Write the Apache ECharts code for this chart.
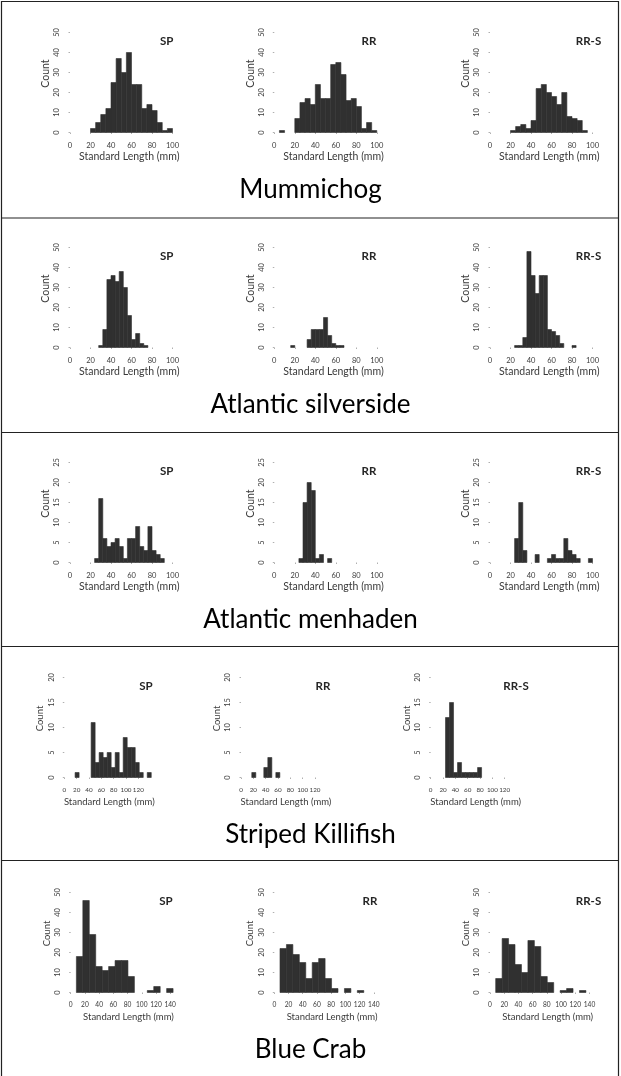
<!DOCTYPE html>
<html>
<head>
<meta charset="utf-8">
<script src="https://cdn.jsdelivr.net/npm/echarts@6/dist/echarts.min.js"></script>
<style>
  html, body { margin: 0; padding: 0; background: #fff; }
  #chart { width: 621px; height: 1076px; }
</style>
</head>
<body>
<div id="chart"></div>
<script>
// Panel titles (one row per species) and sampling sites (one column each)
const speciesNames = ['Mummichog', 'Atlantic silverside', 'Atlantic menhaden', 'Striped Killifish', 'Blue Crab'];
const siteNames = ['SP', 'RR', 'RR-S'];

// Axis ranges per species row
const xMaxBySpecies = [100, 100, 100, 120, 140];
const yMaxBySpecies = [50, 50, 25, 20, 50];
const yStepBySpecies = [10, 10, 5, 5, 10];

// Histogram bins: bin width (mm), first break of each site (mm), counts per bin
const mummichogBinWidth = 5;
const mummichogStarts = [20, 5, 20];
const mummichogSP = [2, 5, 9, 12, 25, 37, 30, 40, 24, 24, 12, 14, 11, 5, 1, 2];
const mummichogRR = [1, 0, 0, 7, 15, 17, 14, 24, 17, 17, 34, 35, 29, 16, 17, 13, 2, 5, 1];
const mummichogRRS = [1, 3, 4, 2, 6, 22, 24, 20, 18, 14, 20, 8, 7, 6, 1];

const silversideBinWidth = 4;
const silversideStarts = [28, 16, 24];
const silversideSP = [1, 9, 34, 36, 33, 38, 30, 16, 4, 7, 2, 1];
const silversideRR = [1, 0, 0, 0, 4, 9, 9, 9, 15, 6, 2, 1, 1];
const silversideRRS = [1, 1, 5, 48, 36, 27, 36, 36, 9, 8, 6, 2, 0, 0, 1];

const menhadenBinWidth = 4;
const menhadenStarts = [24, 24, 24];
const menhadenSP = [1, 16, 6, 4, 5, 6, 4, 1, 6, 6, 9, 4, 3, 9, 3, 2, 1];
const menhadenRR = [1, 15, 20, 18, 1, 2, 0, 1];
const menhadenRRS = [6, 15, 3, 0, 0, 2, 0, 0, 1, 2, 1, 1, 6, 3, 2, 1, 0, 0, 1];

const killifishBinWidth = 6.5;
const killifishStarts = [17.5, 17.5, 24];
const killifishSP = [1, 0, 0, 0, 11, 3, 5, 4, 5, 2, 5, 1, 8, 6, 6, 3, 1, 0, 1];
const killifishRR = [1, 0, 0, 2, 4, 0, 1];
const killifishRRS = [12, 15, 1, 3, 1, 1, 1, 1, 2];

const crabBinWidth = 9.07;
const crabStarts = [8, 8, 8];
const crabSP = [18, 46, 29, 13, 11, 13, 16, 16, 8, 0, 0, 1, 3, 0, 2];
const crabRR = [22, 24, 19, 15, 7, 15, 17, 7, 2, 0, 2, 0, 1];
const crabRRS = [7, 27, 24, 14, 10, 26, 23, 8, 5, 0, 1, 2, 0, 1];

const speciesBins = [
  { width: mummichogBinWidth, starts: mummichogStarts, counts: [mummichogSP, mummichogRR, mummichogRRS] },
  { width: silversideBinWidth, starts: silversideStarts, counts: [silversideSP, silversideRR, silversideRRS] },
  { width: menhadenBinWidth, starts: menhadenStarts, counts: [menhadenSP, menhadenRR, menhadenRRS] },
  { width: killifishBinWidth, starts: killifishStarts, counts: [killifishSP, killifishRR, killifishRRS] },
  { width: crabBinWidth, starts: crabStarts, counts: [crabSP, crabRR, crabRRS] }
];

// ---- layout (pixels) ----
const FONT = 'Lato, "Open Sans", sans-serif';
const ROW_STEP = 215;
const BASE0 = 132.5;          // y of the zero line in the first row
const PLOT_H = 100;
const colLeft = [
  [70, 274.3, 490], [70, 274.3, 490], [70, 274.3, 490], [64.3, 241, 430.7], [70.7, 274.3, 490]
];
const colWidth = [102.5, 102.5, 102.5, 74, 99.5];
const tickFont = [7.5, 7.5, 7.5, 6.3, 6.6];
const titleFont = [10.5, 10.5, 10.5, 9.5, 9.5];
const siteLabelX = [
  [166.7, 369, 588.5], [166.7, 369, 588.5], [166.7, 369, 588.5], [146, 323, 516], [166, 370, 588.5]
];
const dividerY = [218, 432.5, 646.5, 860.5];

const grids = [], xAxes = [], yAxes = [], series = [], graphics = [];

function histogramData(start, width, counts) {
  const out = [];
  counts.forEach((c, i) => {
    if (c > 0) out.push([start + i * width, start + (i + 1) * width, c]);
  });
  return out;
}

function renderBar(params, api) {
  const lo = api.coord([api.value(0), 0]);
  const hi = api.coord([api.value(1), api.value(2)]);
  return {
    type: 'rect',
    shape: { x: lo[0], y: hi[1], width: hi[0] - lo[0], height: lo[1] - hi[1] },
    style: { fill: '#303030', stroke: '#303030', lineWidth: 0.6 }
  };
}

speciesBins.forEach((sp, r) => {
  const base = BASE0 + ROW_STEP * r;
  const top = base - PLOT_H;
  siteNames.forEach((site, c) => {
    const idx = r * 3 + c;
    const left = colLeft[r][c];
    const w = colWidth[r];
    grids.push({ left: left, top: top, width: w, height: PLOT_H });
    xAxes.push({
      type: 'value', gridIndex: idx, min: 0, max: xMaxBySpecies[r], interval: 20, offset: 5,
      axisLine: { show: false },
      axisTick: { show: true, length: 1.5, lineStyle: { color: '#b0b0b0', width: 1 } },
      axisLabel: {
        fontSize: tickFont[r], color: '#3a3a3a', margin: 4, fontFamily: FONT,
        showMinLabel: true, showMaxLabel: true, hideOverlap: false
      },
      splitLine: { show: false }
    });
    yAxes.push({
      type: 'value', gridIndex: idx, min: 0, max: yMaxBySpecies[r], interval: yStepBySpecies[r], offset: 6,
      axisLine: { show: false },
      axisTick: { show: true, length: 1.5, lineStyle: { color: '#b0b0b0', width: 1 } },
      axisLabel: {
        fontSize: 7.5, color: '#3a3a3a', margin: 3, rotate: 90, fontFamily: FONT,
        showMinLabel: true, showMaxLabel: true, hideOverlap: false
      },
      splitLine: { show: false }
    });
    series.push({
      type: 'custom', xAxisIndex: idx, yAxisIndex: idx,
      renderItem: renderBar,
      encode: { x: [0, 1], y: 2 },
      data: histogramData(sp.starts[c], sp.width, sp.counts[c]),
      silent: true
    });
    // axis titles and site label
    graphics.push({
      type: 'text', x: left - 24, y: base - 59, rotation: Math.PI / 2,
      style: { text: 'Count', fontSize: titleFont[r], fill: '#3a3a3a', fontFamily: FONT, align: 'center', verticalAlign: 'middle' }
    });
    graphics.push({
      type: 'text', x: left + w / 2 + 8, y: base + 24,
      style: { text: 'Standard Length (mm)', fontSize: titleFont[r], fill: '#3a3a3a', fontFamily: FONT, align: 'center', verticalAlign: 'middle' }
    });
    graphics.push({
      type: 'text', x: siteLabelX[r][c], y: base - 91,
      style: { text: site, fontSize: 11.5, fontWeight: 'bold', fill: '#262626', fontFamily: FONT, align: 'center', verticalAlign: 'middle' }
    });
  });
  graphics.push({
    type: 'text', x: 310.5, y: base + 57,
    style: { text: speciesNames[r], fontSize: 26, fill: '#000', fontFamily: FONT, align: 'center', verticalAlign: 'middle' }
  });
});

// frame and row dividers
graphics.push({ type: 'rect', shape: { x: 1.5, y: 1.5, width: 617, height: 1080 }, style: { fill: 'none', stroke: '#222', lineWidth: 1.2 } });
dividerY.forEach(y => {
  graphics.push({ type: 'line', shape: { x1: 1.5, y1: y, x2: 618.5, y2: y }, style: { stroke: '#222', lineWidth: 1.2 } });
});

const chart = echarts.init(document.getElementById('chart'), null, { renderer: 'canvas' });
chart.setOption({
  animation: false,
  backgroundColor: '#fff',
  grid: grids,
  xAxis: xAxes,
  yAxis: yAxes,
  series: series,
  graphic: graphics
});
</script>
</body>
</html>
